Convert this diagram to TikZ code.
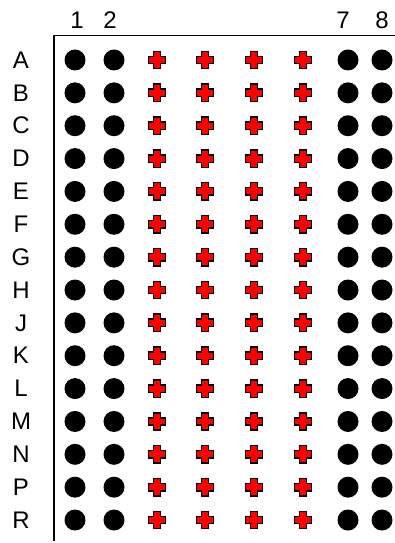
\documentclass[tikz,border=0pt]{standalone}
\usepackage{fontspec}
\setmainfont{Liberation Sans}
\begin{document}
\begin{tikzpicture}[x=1pt,y=1pt,
  lbl/.style={font=\fontsize{24}{24}\selectfont, inner sep=0pt},
  dot/.style={circle, fill=black, minimum size=21pt, inner sep=0pt},
  frame/.style={line width=1.4pt},
  plus/.pic={\path[fill=red, draw=black, line width=1.5pt, line join=miter]
    (-3.7,8.7) -- (3.7,8.7) -- (3.7,3.7) -- (8.7,3.7) -- (8.7,-3.7) -- (3.7,-3.7)
    -- (3.7,-8.7) -- (-3.7,-8.7) -- (-3.7,-3.7) -- (-8.7,-3.7) -- (-8.7,3.7)
    -- (-3.7,3.7) -- cycle;}
]
\useasboundingbox (0,0) rectangle (395,543);
% frame
\coordinate (tl) at (54,507.5);
\coordinate (tr) at (395,507.5);
\coordinate (bl) at (54,2);
\draw[frame] (tr) -- (tl) -- (bl);
% column labels
\node[lbl] (c1) at (77,523) {1};
\node[lbl] (c2) at (110,523) {2};
\node[lbl] (c7) at (343,523) {7};
\node[lbl] (c8) at (382,523) {8};
% rows
\foreach \r [count=\i from 0] in {A,B,C,D,E,F,G,H,J,K,L,M,N,P,R} {
  \pgfmathsetmacro{\yy}{543-60-\i*32.86}
  \node[lbl] (row\r) at (21,\yy) {\r};
  \node[dot] (d1\r) at (75,\yy) {};
  \node[dot] (d2\r) at (114,\yy) {};
  \node[dot] (d7\r) at (348,\yy) {};
  \node[dot] (d8\r) at (382,\yy) {};
  \pic at (157,\yy) {plus};
  \pic at (205,\yy) {plus};
  \pic at (254,\yy) {plus};
  \pic at (303,\yy) {plus};
}
\end{tikzpicture}
\end{document}
